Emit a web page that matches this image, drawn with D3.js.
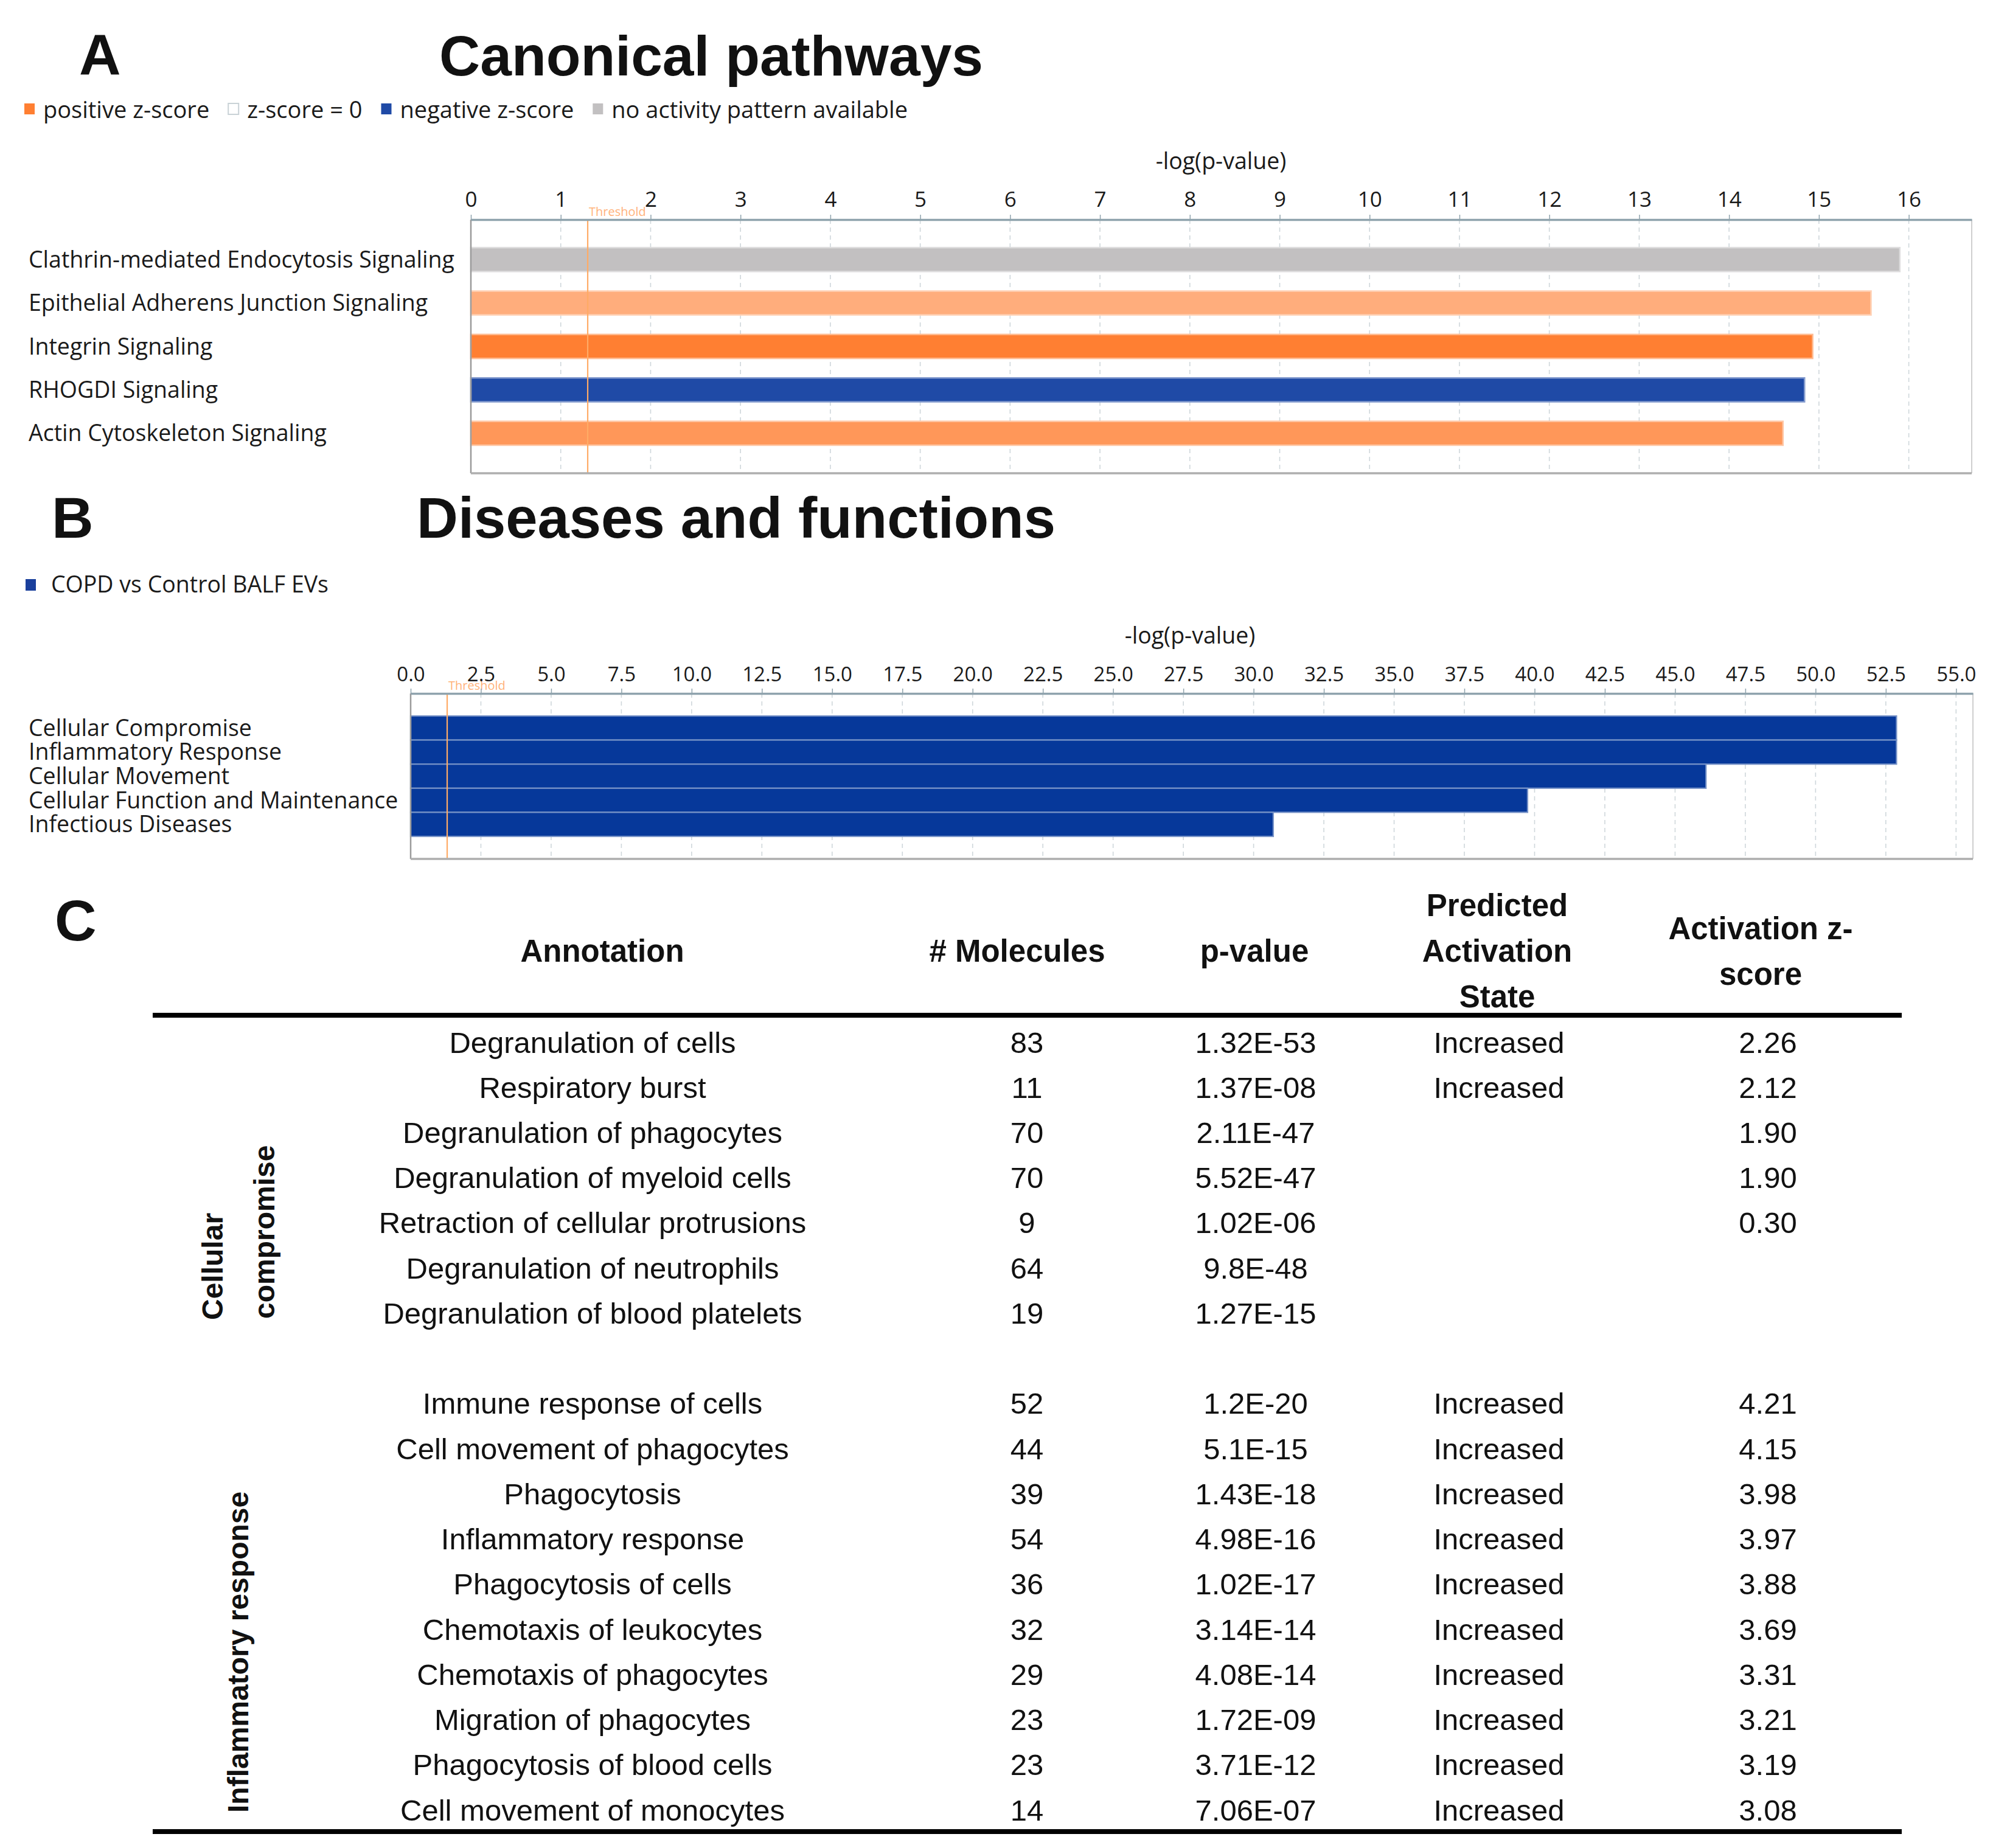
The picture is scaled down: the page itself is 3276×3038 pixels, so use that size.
<!DOCTYPE html>
<html>
<head>
<meta charset="utf-8">
<script src="https://cdn.jsdelivr.net/npm/d3@7"></script>
<style>
  html, body { margin: 0; padding: 0; background: #ffffff; }
  svg { display: block; }
</style>
</head>
<body>
<svg id="fig" width="3276" height="3038"></svg>
<script>
// ---------------- DATA ----------------
// Panel A: canonical pathways
const pathwayNames = [
  "Clathrin-mediated Endocytosis Signaling",
  "Epithelial Adherens Junction Signaling",
  "Integrin Signaling",
  "RHOGDI Signaling",
  "Actin Cytoskeleton Signaling"
];
const pathwayLogP = [15.9, 15.58, 14.93, 14.84, 14.6];
const pathwayActivity = ["none", "positive", "positive", "negative", "positive"];
const pathwayIntensity = [0, 0.64, 1, 1, 0.81]; // relative |z-score| shading
const pathwayTicks = d3.range(0, 17, 1);
const pathwayLegend = ["positive z-score", "z-score = 0", "negative z-score", "no activity pattern available"];
const pathwayLegendKeys = ["positive", "zero", "negative", "none"];
const thresholdValue = 1.3;

// Panel B: diseases and functions
const diseaseNames = [
  "Cellular Compromise",
  "Inflammatory Response",
  "Cellular Movement",
  "Cellular Function and Maintenance",
  "Infectious Diseases"
];
const diseaseLogP = [52.88, 52.88, 46.1, 39.75, 30.7];
const diseaseTicks = d3.range(0, 55.01, 2.5);
const diseaseLegend = "COPD vs Control BALF EVs";

// Panel C: table
const tableHeaders = ["Annotation", "# Molecules", "p-value", "Predicted Activation State", "Activation z-score"];
const annotations = [
  "Degranulation of cells", "Respiratory burst", "Degranulation of phagocytes",
  "Degranulation of myeloid cells", "Retraction of cellular protrusions",
  "Degranulation of neutrophils", "Degranulation of blood platelets",
  "Immune response of cells", "Cell movement of phagocytes", "Phagocytosis",
  "Inflammatory response", "Phagocytosis of cells", "Chemotaxis of leukocytes",
  "Chemotaxis of phagocytes", "Migration of phagocytes", "Phagocytosis of blood cells",
  "Cell movement of monocytes"
];
const molecules = [83, 11, 70, 70, 9, 64, 19, 52, 44, 39, 54, 36, 32, 29, 23, 23, 14];
const pValues = ["1.32E-53", "1.37E-08", "2.11E-47", "5.52E-47", "1.02E-06", "9.8E-48", "1.27E-15",
  "1.2E-20", "5.1E-15", "1.43E-18", "4.98E-16", "1.02E-17", "3.14E-14", "4.08E-14",
  "1.72E-09", "3.71E-12", "7.06E-07"];
const predictedStates = ["Increased", "Increased", "", "", "", "", "",
  "Increased", "Increased", "Increased", "Increased", "Increased", "Increased",
  "Increased", "Increased", "Increased", "Increased"];
const zScores = ["2.26", "2.12", "1.90", "1.90", "0.30", "", "",
  "4.21", "4.15", "3.98", "3.97", "3.88", "3.69", "3.31", "3.21", "3.19", "3.08"];
const rowGroup = [0, 0, 0, 0, 0, 0, 0, 1, 1, 1, 1, 1, 1, 1, 1, 1, 1];
const groupNames = [["Cellular", "compromise"], ["Inflammatory response"]];

// ---------------- STYLE ----------------
const SANS = "'Open Sans', 'Noto Sans', 'DejaVu Sans', sans-serif";
const ARIAL = "'Liberation Sans', Arial, Helvetica, sans-serif";
const ORANGE = "#ff7f32";
const BLUE_A = "#1f4aa6";
const BLUE_B = "#06389a";
const GRAY = "#c2c0c1";
const TEXT = "#1a1a1a";

const svg = d3.select("#fig");
svg.append("rect").attr("width", 3276).attr("height", 3038).attr("fill", "#ffffff");

function bigText(x, y, txt, size) {
  svg.append("text").attr("x", x).attr("y", y)
    .attr("font-family", ARIAL).attr("font-weight", "bold")
    .attr("font-size", size).attr("fill", "#111").text(txt);
}

// Panel letters and titles
bigText(130, 123, "A", 95);
bigText(722, 124, "Canonical pathways", 93);
bigText(85, 884, "B", 95);
bigText(685, 884, "Diseases and functions", 94);
bigText(90, 1546, "C", 95);

const orangeScale = d3.interpolateRgb("#ffffff", ORANGE);
function pathwayColor(i) {
  const a = pathwayActivity[i];
  if (a === "none") return GRAY;
  if (a === "negative") return BLUE_A;
  return orangeScale(pathwayIntensity[i]);
}

// ---------------- PANEL A LEGEND ----------------
{
  const g = svg.append("g");
  let x = 40;
  pathwayLegend.forEach((lab, i) => {
    const key = pathwayLegendKeys[i];
    const fill = key === "positive" ? ORANGE : key === "negative" ? BLUE_A : key === "none" ? GRAY : "#ffffff";
    g.append("rect").attr("x", x).attr("y", 170).attr("width", 17).attr("height", 18)
      .attr("fill", fill)
      .attr("stroke", key === "zero" ? "#c9d2d6" : "none").attr("stroke-width", 2);
    const t = g.append("text").attr("x", x + 31).attr("y", 194)
      .attr("font-family", SANS).attr("font-size", 38).attr("fill", TEXT).text(lab);
    const w = t.node().getComputedTextLength();
    x = x + 31 + w + 31;
  });
}

// ---------------- GENERIC BAR PANEL ----------------
function barPanel(o) {
  const g = svg.append("g");
  const x = d3.scaleLinear().domain(o.domain).range([o.left, o.right]);
  const y = d3.scaleBand().domain(o.names).range(o.bandRange)
    .paddingInner(o.padInner).paddingOuter(o.padOuter);

  // gridlines
  g.append("g").selectAll("line").data(o.ticks.filter(d => d > 0)).join("line")
    .attr("x1", d => x(d)).attr("x2", d => x(d))
    .attr("y1", o.top).attr("y2", o.bottom)
    .attr("stroke", "#cfd7db").attr("stroke-width", 1.6)
    .attr("stroke-dasharray", "7,6");

  // bars
  g.append("g").selectAll("rect").data(o.names).join("rect")
    .attr("x", x(0))
    .attr("y", d => y(d))
    .attr("width", (d, i) => x(o.values[i]) - x(0))
    .attr("height", y.bandwidth())
    .attr("fill", (d, i) => o.color(i))
    .attr("stroke", (d, i) => d3.interpolateRgb(o.color(i), "#ffffff")(0.45))
    .attr("stroke-width", o.strokeW);

  // threshold
  const tx = x(thresholdValue);
  g.append("line").attr("x1", tx).attr("x2", tx).attr("y1", o.top).attr("y2", o.bottom)
    .attr("stroke", "#ffab66").attr("stroke-width", 2.2);
  g.append("text").attr("x", tx + 2).attr("y", o.top - 6)
    .attr("font-family", SANS).attr("font-size", 20).attr("fill", "#ffb27a")
    .text("Threshold");

  // frame
  g.append("line").attr("x1", o.left).attr("x2", o.left).attr("y1", o.top).attr("y2", o.bottom)
    .attr("stroke", "#9a9a9a").attr("stroke-width", 2.5);
  g.append("line").attr("x1", o.right).attr("x2", o.right).attr("y1", o.top).attr("y2", o.bottom)
    .attr("stroke", "#cfcfcf").attr("stroke-width", 2);
  g.append("line").attr("x1", o.left).attr("x2", o.right).attr("y1", o.bottom).attr("y2", o.bottom)
    .attr("stroke", "#aeaeae").attr("stroke-width", 3.5);

  // axis (top)
  const axis = d3.axisTop(x).tickValues(o.ticks).tickFormat(o.fmt)
    .tickSizeInner(8).tickSizeOuter(0).tickPadding(o.tickPad);
  const ag = g.append("g").attr("transform", `translate(0,${o.top})`).call(axis);
  ag.select(".domain").attr("stroke", "#8fa3ad").attr("stroke-width", 3.5);
  ag.selectAll(".tick line").attr("stroke", "#8fa3ad").attr("stroke-width", 1.5);
  ag.selectAll(".tick text").attr("font-family", SANS).attr("font-size", o.tickSize).attr("fill", TEXT);
  ag.attr("font-family", null).attr("font-size", null);

  // axis title
  g.append("text").attr("x", o.titleX).attr("y", o.titleY).attr("text-anchor", "middle")
    .attr("font-family", SANS).attr("font-size", 37.5).attr("fill", TEXT).text("-log(p-value)");

  // category labels
  g.append("g").selectAll("text").data(o.names).join("text")
    .attr("x", 47)
    .attr("y", d => y(d) + y.bandwidth() / 2 + o.labelDy)
    .attr("font-family", SANS).attr("font-size", 37.5).attr("fill", TEXT)
    .text(d => d);
  return g;
}

// Panel A chart
barPanel({
  names: pathwayNames, values: pathwayLogP, color: pathwayColor,
  domain: [0, 16.7], left: 774, right: 3241, top: 361, bottom: 778,
  bandRange: [391, 748], padInner: 0.45, padOuter: 0.225, strokeW: 2.5,
  ticks: pathwayTicks, fmt: d3.format("d"), tickPad: 13, tickSize: 35,
  titleX: 2007, titleY: 278, labelDy: 13
});

// Panel B legend
svg.append("rect").attr("x", 42).attr("y", 952).attr("width", 17).attr("height", 19).attr("fill", "#1a3f9c");
svg.append("text").attr("x", 84).attr("y", 974).attr("font-family", SANS).attr("font-size", 37.5)
  .attr("fill", TEXT).text(diseaseLegend);

// Panel B chart
barPanel({
  names: diseaseNames, values: diseaseLogP, color: () => BLUE_B,
  domain: [0, 55.6], left: 675, right: 3243, top: 1140, bottom: 1412,
  bandRange: [1177, 1375], padInner: 0, padOuter: 0, strokeW: 2.2,
  ticks: diseaseTicks, fmt: d3.format(".1f"), tickPad: 12, tickSize: 33,
  titleX: 1956, titleY: 1058, labelDy: 13
});

// ---------------- PANEL C TABLE ----------------
{
  const g = svg.append("g");
  const colX = [974, 1688, 2064, 2464, 2906];
  const rowY = d3.scaleLinear().domain([0, 17]).range([1713, 2975]);
  const body = 49, head = 51;

  // headers
  const headerLines = [["Annotation"], ["# Molecules"], ["p-value"], ["Predicted", "Activation", "State"], ["Activation z-", "score"]];
  const headerX = [990, 1672, 2062, 2461, 2894];
  headerLines.forEach((lines, c) => {
    const n = lines.length;
    lines.forEach((ln, k) => {
      const cy = 1563 + (k - (n - 1) / 2) * 75;
      g.append("text").attr("x", headerX[c]).attr("y", cy + 18)
        .attr("text-anchor", "middle").attr("font-family", ARIAL).attr("font-weight", "bold")
        .attr("font-size", head).attr("fill", "#111").text(ln);
    });
  });

  // rules
  g.append("line").attr("x1", 251).attr("x2", 3126).attr("y1", 1669).attr("y2", 1669)
    .attr("stroke", "#000").attr("stroke-width", 8);
  g.append("line").attr("x1", 251).attr("x2", 3126).attr("y1", 3011).attr("y2", 3011)
    .attr("stroke", "#000").attr("stroke-width", 8);

  // rows
  const columns = [annotations, molecules, pValues, predictedStates, zScores];
  annotations.forEach((a, i) => {
    const slot = i + rowGroup[i];
    const yy = rowY(slot) + 17.5;
    columns.forEach((col, c) => {
      const v = col[i];
      if (v === "" || v === undefined) return;
      g.append("text").attr("x", colX[c]).attr("y", yy)
        .attr("text-anchor", "middle").attr("font-family", ARIAL)
        .attr("font-size", body).attr("fill", "#111").text(v);
    });
  });

  // group labels (rotated)
  const groupPos = [
    [{ x: 366, y: 2170 }, { x: 451, y: 2168 }],
    [{ x: 408, y: 2980 }]
  ];
  groupNames.forEach((lines, gi) => {
    lines.forEach((ln, k) => {
      const p = groupPos[gi][k];
      g.append("text").attr("transform", `translate(${p.x},${p.y}) rotate(-90)`)
        .attr("font-family", ARIAL).attr("font-weight", "bold")
        .attr("font-size", 48).attr("fill", "#111").text(ln);
    });
  });
}
</script>
</body>
</html>
